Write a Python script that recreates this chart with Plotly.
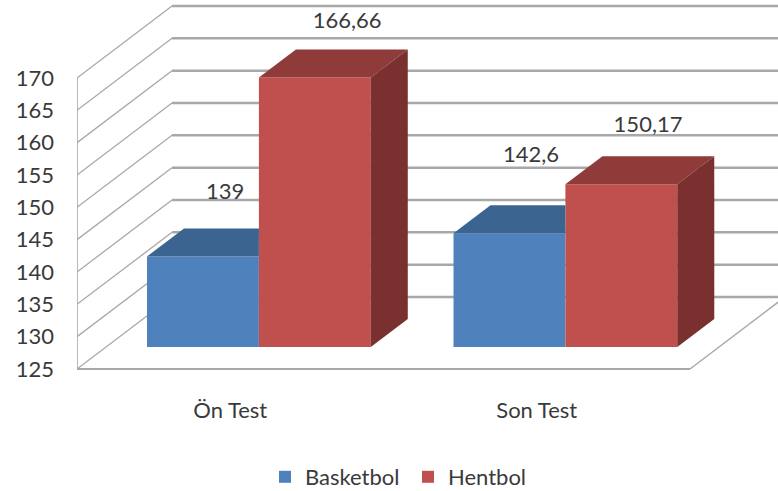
import plotly.graph_objects as go

categories = ["Ön Test", "Son Test"]
basketbol = [139, 142.6]
hentbol = [166.66, 150.17]
y_ticks = [125, 130, 135, 140, 145, 150, 155, 160, 165, 170]

W, H = 778, 491
LEFT, BOTTOM_PX, FLOOR_PX = 77, 385, 369
PX_X = 306.5
PX_Y = 6.467
x_lo = -0.5
x_hi = x_lo + (W - LEFT) / PX_X
y_lo = 125 - (BOTTOM_PX - FLOOR_PX) / PX_Y
y_hi = 125 + FLOOR_PX / PX_Y

WALL_DX, WALL_DY = 95 / PX_X, 72 / PX_Y      # depth of the chart floor
BAR_DX, BAR_DY = 37 / PX_X, 28 / PX_Y        # depth of a bar
SHIFT = 22 / PX_Y                            # bars stand behind the front edge
BAR_W = 0.365
OFF_B, OFF_H = -0.2716, 0.0935
FLOOR_R = x_lo + 2

BLUE, BLUE_TOP = "#4f81bd", "#3c6490"
RED, RED_TOP, RED_SIDE = "#c0504d", "#8f3b39", "#7a302e"
GRID = "#a8a8a8"
TEXT = "#3a3a3a"
FONT = "Lato"

shapes = []
def line(x0, y0, x1, y1, width, color=GRID):
    shapes.append(dict(type="line", xref="x", yref="y", x0=x0, y0=y0, x1=x1, y1=y1,
                       layer="below", line=dict(color=color, width=width)))

for t in y_ticks:
    line(x_lo, t, x_lo + WALL_DX, t + WALL_DY, 1.3)
    line(x_lo + WALL_DX, t + WALL_DY, x_hi, t + WALL_DY, 2.5)
line(x_lo, 125, x_lo, 170, 1.6)
line(x_lo, 125, FLOOR_R, 125, 2.2)
line(FLOOR_R, 125, FLOOR_R + WALL_DX, 125 + WALL_DY, 1.5)

fig = go.Figure()
base = 125 + SHIFT
fig.add_trace(go.Bar(name="Basketbol", x=[0, 1], y=[v - 125 for v in basketbol], base=base,
                     offset=OFF_B, width=BAR_W, marker=dict(color=BLUE, line_width=0), hoverinfo="skip"))
fig.add_trace(go.Bar(name="Hentbol", x=[0, 1], y=[v - 125 for v in hentbol], base=base,
                     offset=OFF_H, width=BAR_W, marker=dict(color=RED, line_width=0), hoverinfo="skip"))

def face(xs, ys, color):
    fig.add_trace(go.Scatter(x=xs, y=ys, mode="lines", fill="toself", fillcolor=color,
                             line=dict(width=0, color=color), showlegend=False, hoverinfo="skip"))

for i in range(2):
    # visible part of the blue top, cut off by the red bar in front of it
    x0 = i + OFF_B
    x1 = i + OFF_H
    t = basketbol[i] + SHIFT
    face([x0, x1, x1, x0 + BAR_DX, x0], [t, t, t + BAR_DY, t + BAR_DY, t], BLUE_TOP)
    # red top and side
    x0 = i + OFF_H
    x1 = x0 + BAR_W
    t = hentbol[i] + SHIFT
    face([x0, x1, x1 + BAR_DX, x0 + BAR_DX, x0], [t, t, t + BAR_DY, t + BAR_DY, t], RED_TOP)
    face([x1, x1 + BAR_DX, x1 + BAR_DX, x1, x1],
         [t, t + BAR_DY, base + BAR_DY, base, t], RED_SIDE)

# data labels, placed as in the reference
label_dx = [-0.017, 0.381, -0.019, 0.363]  # offset from the category centre
label_dy = [9.75, 8.5, 11.9, 8.95]
label_vals = [basketbol[0], hentbol[0], basketbol[1], hentbol[1]]
label_cat = [0, 0, 1, 1]
fig.add_trace(go.Scatter(
    x=[c + d for c, d in zip(label_cat, label_dx)],
    y=[v + SHIFT + d for v, d in zip(label_vals, label_dy)],
    mode="text",
    text=[str(v).replace(".", ",") for v in label_vals],
    textposition="middle center",
    textfont=dict(family=FONT, size=22, color=TEXT),
    cliponaxis=False,
    showlegend=False, hoverinfo="skip",
))

fig.update_layout(
    width=W, height=H,
    margin=dict(l=LEFT, r=0, t=0, b=H - BOTTOM_PX, autoexpand=False),
    paper_bgcolor="white", plot_bgcolor="white",
    barmode="overlay",
    shapes=shapes,
    font=dict(family=FONT, size=22, color=TEXT),
    legend=dict(orientation="h", x=(265 - LEFT) / (W - LEFT), xanchor="left",
                y=(BOTTOM_PX - 477) / BOTTOM_PX, yanchor="middle", entrywidth=98,
                font=dict(family=FONT, size=22, color=TEXT), bgcolor="rgba(0,0,0,0)"),
    xaxis=dict(range=[x_lo, x_hi], tickmode="array", tickvals=[0, 1], ticktext=categories,
               showgrid=False, zeroline=False, showline=False, ticks="", ticklabelstandoff=10,
               tickfont=dict(family=FONT, size=22, color=TEXT)),
    yaxis=dict(range=[y_lo, y_hi], tickmode="array", tickvals=y_ticks,
               ticktext=[str(t) for t in y_ticks],
               showgrid=False, zeroline=False, showline=False, ticks="", ticklabelstandoff=22,
               tickfont=dict(family=FONT, size=22, color=TEXT)),
)

fig.write_html("out.html", config={"displayModeBar": False},
               post_script="document.body.style.margin='0';")
